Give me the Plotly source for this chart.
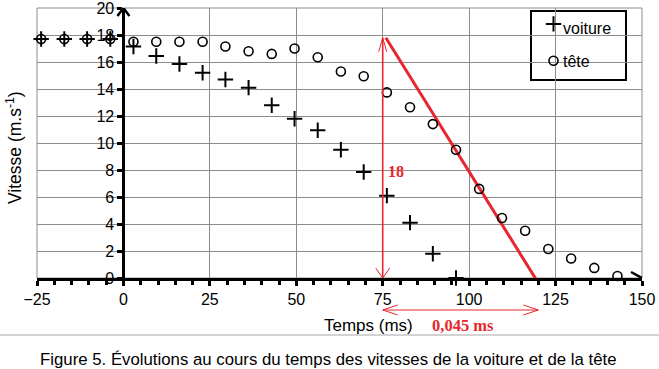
import plotly.graph_objects as go

# ---- data ----
temps = [-23.8, -17.1, -10.5, -3.8, 2.9, 9.5, 16.2, 22.9, 29.5, 36.2, 42.9, 49.5, 56.2,
         62.9, 69.5, 76.2, 82.9, 89.5, 96.2, 102.9, 109.5, 116.2, 122.9, 129.5, 136.2, 142.9]
voiture = [17.7, 17.7, 17.7, 17.7, 17.15, 16.45, 15.85, 15.2, 14.7, 14.1, 12.8, 11.8, 10.95,
           9.5, 7.85, 6.1, 4.1, 1.8, 0.0]
tete = [17.7, 17.7, 17.7, 17.7, 17.5, 17.5, 17.5, 17.5, 17.15, 16.8, 16.6, 17.0, 16.35,
        15.3, 14.95, 13.75, 12.65, 11.4, 9.5, 6.6, 4.45, 3.5, 2.15, 1.45, 0.75, 0.15]
tangente_t = [75.9, 119.6]
tangente_v = [17.8, -0.2]
x_ticks = [-25, 0, 25, 50, 75, 100, 125, 150]
y_ticks = [0, 2, 4, 6, 8, 10, 12, 14, 16, 18, 20]
series_names = ["voiture", "tête"]

RED = "#e8262d"
GRID = "#8c8c8c"
AX = dict(family="Arial, Liberation Sans, sans-serif", color="black")
SERIF = "Liberation Serif, Times New Roman, serif"

fig = go.Figure()
fig.add_trace(go.Scatter(
    x=tangente_t, y=tangente_v, mode="lines", line=dict(color=RED, width=3),
    showlegend=False, hoverinfo="skip"))
fig.add_trace(go.Scatter(
    x=temps[:len(voiture)], y=voiture, mode="markers", name="", legendgroup="a",
    hovertext=series_names[0],
    marker=dict(symbol="cross-thin", size=11, line=dict(width=2, color="black"), color="black"),
    cliponaxis=False))
fig.add_trace(go.Scatter(
    x=temps, y=tete, mode="markers", name="", legendgroup="b",
    hovertext=series_names[1],
    marker=dict(symbol="circle-open", size=9, line=dict(width=1.6, color="black"), color="black"),
    cliponaxis=False))


def px_y(p):
    return (278 - p) / 270


def px_x(p):
    return (p - 37) / 605


shapes = []
# grey frame of the plot area
shapes.append(dict(type="rect", xref="x domain", yref="y domain", x0=0, x1=1, y0=0, y1=1,
                   line=dict(color=GRID, width=1), layer="below"))
# legend box
shapes.append(dict(type="rect", xref="paper", yref="paper",
                   x0=px_x(531), x1=px_x(626), y0=px_y(80), y1=px_y(11),
                   line=dict(color="black", width=2), fillcolor="white", layer="below"))
# axis arrowheads
shapes.append(dict(type="path", xref="x", yref="y", xsizemode="pixel", ysizemode="pixel",
                   xanchor=0, yanchor=20, path="M -6,-8 L 0,0 L 6,-8",
                   line=dict(color="black", width=2.5)))
shapes.append(dict(type="path", xref="x", yref="y", xsizemode="pixel", ysizemode="pixel",
                   xanchor=150, yanchor=0, path="M -11,6 L 0,0 L -11,-6",
                   line=dict(color="black", width=2.5)))
# vertical red double arrow
shapes.append(dict(type="line", xref="x", yref="y", x0=75, x1=75, y0=0, y1=17.8,
                   line=dict(color=RED, width=1.6)))
shapes.append(dict(type="path", xref="x", yref="y", xsizemode="pixel", ysizemode="pixel",
                   xanchor=75, yanchor=0, path="M -7,10 L 0,0 L 7,10",
                   line=dict(color=RED, width=1)))
shapes.append(dict(type="path", xref="x", yref="y", xsizemode="pixel", ysizemode="pixel",
                   xanchor=75, yanchor=17.8, path="M -4,-14 L 0,0 L 4,-14",
                   line=dict(color=RED, width=1)))
# horizontal red double arrow under the axis
YARR = px_y(310)
shapes.append(dict(type="line", xref="x", yref="paper", x0=75, x1=120, y0=YARR, y1=YARR,
                   line=dict(color=RED, width=1)))
shapes.append(dict(type="path", xref="x", yref="paper", xsizemode="pixel", ysizemode="pixel",
                   xanchor=75, yanchor=YARR, path="M 15,5 L 0,0 L 15,-5",
                   line=dict(color=RED, width=1)))
shapes.append(dict(type="path", xref="x", yref="paper", xsizemode="pixel", ysizemode="pixel",
                   xanchor=120, yanchor=YARR, path="M -15,5 L 0,0 L -15,-5",
                   line=dict(color=RED, width=1)))
# separator line above the caption
SEP = px_y(335)
shapes.append(dict(type="line", xref="paper", yref="paper", x0=px_x(0), x1=px_x(659), y0=SEP, y1=SEP,
                   line=dict(color="#a6a6a6", width=1)))

annotations = [
    dict(text="18", x=78.9, y=7.92, xref="x", yref="y",
         font=dict(family=SERIF, size=16, color=RED, weight="bold")),
    dict(text="0,045 ms", x=98.1, y=px_y(325), xref="x", yref="paper",
         font=dict(family=SERIF, size=16.5, color=RED, weight="bold")),
    dict(text="Temps (ms)", x=70.8, y=px_y(325), xref="x", yref="paper",
         font=dict(size=17, **AX)),
    dict(text="Vitesse (m.s<sup>-1</sup>)", x=px_x(14), y=px_y(148), xref="paper", yref="paper",
         textangle=-90, font=dict(size=17.5, **AX)),
    dict(text="Figure 5. Évolutions au cours du temps des vitesses de la voiture et de la tête",
         x=px_x(328), y=px_y(359), xref="paper", yref="paper",
         font=dict(size=16.8, **AX)),
    dict(text=series_names[0], x=px_x(561), y=px_y(28), xref="paper", yref="paper",
         xanchor="left", font=dict(size=16, **AX)),
    dict(text=series_names[1], x=px_x(561), y=px_y(62), xref="paper", yref="paper",
         xanchor="left", font=dict(size=16, **AX)),
]
for a in annotations:
    a.setdefault("xanchor", "center")
    a["yanchor"] = "middle"
    a["showarrow"] = False

fig.update_layout(
    width=659, height=369,
    margin=dict(l=37, r=17, t=8, b=91, autoexpand=False),
    paper_bgcolor="white", plot_bgcolor="white",
    shapes=shapes, annotations=annotations,
    showlegend=True,
    legend=dict(x=px_x(533.5), y=px_y(7), xanchor="left", yanchor="top",
                borderwidth=0, bgcolor="rgba(0,0,0,0)",
                font=dict(size=16, **AX), tracegroupgap=13, itemwidth=30),
    xaxis=dict(range=[-25, 150], tickvals=x_ticks, showgrid=True, gridcolor=GRID, gridwidth=1,
               zeroline=False, showline=True, linecolor="black", linewidth=3, automargin=False,
               ticks="outside", ticklen=5, tickwidth=3, tickcolor="black",
               ticklabeloverflow="allow",
               minor=dict(dtick=5, tick0=0, ticks="outside", ticklen=4, tickwidth=3,
                          tickcolor="black", showgrid=False),
               tickfont=dict(size=16, **AX), fixedrange=True),
    yaxis=dict(range=[0, 20], tickvals=y_ticks, showgrid=True, gridcolor=GRID, gridwidth=1,
               zeroline=False, showline=True, linecolor="black", linewidth=3, automargin=False,
               anchor="free", position=25 / 175, ticklabeloverflow="allow",
               ticks="outside", ticklen=5, tickwidth=3, tickcolor="black",
               tickfont=dict(size=16, **AX), fixedrange=True),
)

fig.write_html("out.html", config={"displayModeBar": False},
               post_script="document.body.style.margin='0px';document.body.style.padding='0px';")
